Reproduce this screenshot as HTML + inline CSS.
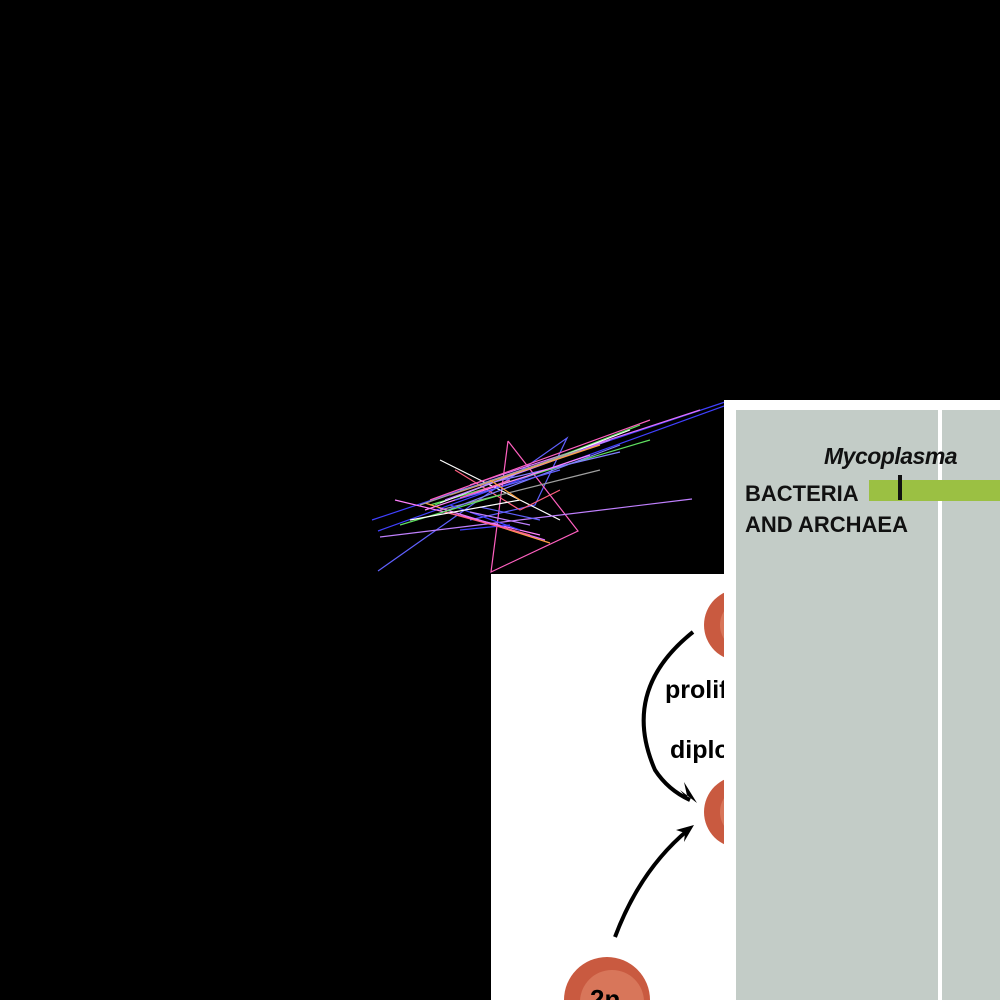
<!DOCTYPE html>
<html><head><meta charset="utf-8"><style>
html,body{margin:0;padding:0;background:#000;width:1000px;height:1000px;overflow:hidden}
svg{display:block}
</style></head><body>
<svg width="1000" height="1000" viewBox="0 0 1000 1000">
<rect x="0" y="0" width="1000" height="1000" fill="#000"/>
<g id="scribble" fill="none" stroke-width="1.2"></g>
<rect x="491" y="574" width="240" height="426" fill="#fff"/>
<path d="M693,632 Q620,690 655,770 Q668,790 690,800" fill="none" stroke="#000" stroke-width="4"/>
<polygon points="697,803 680,790 688,800 684,782" fill="#000"/>
<path d="M615,937 Q640,870 688,830" fill="none" stroke="#000" stroke-width="4"/>
<polygon points="694,825 676,830 685,833 684,842" fill="#000"/>
<circle cx="740" cy="625" r="36" fill="#c95a40"/>
<circle cx="746" cy="625" r="26" fill="#d8765a"/>
<circle cx="740" cy="812" r="36" fill="#c95a40"/>
<circle cx="746" cy="812" r="26" fill="#d8765a"/>
<circle cx="607" cy="1000" r="43" fill="#c95a40"/>
<circle cx="612" cy="1002" r="32" fill="#d8765a"/>
<text x="590" y="1008" font-family="Liberation Sans, sans-serif" font-weight="bold" font-size="26" fill="#000">2n</text>
<text x="665" y="698" font-family="Liberation Sans, sans-serif" font-weight="bold" font-size="25" fill="#000">proliferation</text>
<text x="670" y="758" font-family="Liberation Sans, sans-serif" font-weight="bold" font-size="25" fill="#000">diploid</text>
<rect x="724" y="400" width="276" height="600" fill="#fff"/>
<rect x="736" y="410" width="264" height="590" fill="#c3ccc7"/>
<rect x="938" y="410" width="4" height="590" fill="#fff"/>
<rect x="869" y="480" width="131" height="21" fill="#9bc043"/>
<rect x="898" y="475" width="4" height="25" fill="#111"/>
<text x="824" y="464" font-family="Liberation Sans, sans-serif" font-weight="bold" font-style="italic" font-size="23" fill="#111" letter-spacing="-0.5">Mycoplasma</text>
<text x="745" y="501" font-family="Liberation Sans, sans-serif" font-weight="bold" font-size="22" fill="#111">BACTERIA</text>
<text x="745" y="532" font-family="Liberation Sans, sans-serif" font-weight="bold" font-size="22" fill="#111">AND ARCHAEA</text>
</svg>
<script>
var colors=["#4040ff","#6060ff","#ff60c0","#60e060","#ffffff","#c080ff","#ffa040","#a0a0a0","#ff80ff","#8080ff","#e070ff","#ff6080"];
var lines=[
[[372,520],[725,402],[727,405],[378,531]],
[[378,571],[567,438],[535,505],[470,520]],
[[508,441],[578,531],[491,572],[508,441]],
[[430,505],[650,440]],
[[440,460],[560,520]],
[[380,537],[692,499]],
[[425,503],[550,543]],
[[440,510],[600,470]],
[[395,500],[540,535]],
[[460,490],[620,452]],
[[470,485],[700,410]],
[[455,470],[520,510],[560,490]],
[[460,530],[510,525]],
[[480,507],[540,520]],
[[430,500],[650,420]],
[[435,505],[640,425]],
[[440,503],[630,430]],
[[445,500],[610,440]],
[[450,495],[600,445]],
[[420,505],[580,450]],
[[425,510],[590,455]],
[[435,515],[620,445]],
[[440,508],[545,540]],
[[445,512],[530,535]],
[[450,505],[520,530]],
[[455,500],[560,470]],
[[460,498],[510,480]],
[[400,525],[500,495]],
[[410,520],[520,500]],
[[470,512],[530,525]],
[[490,480],[520,500]]
];
var g=document.getElementById('scribble');
lines.forEach(function(l,i){
 var p=document.createElementNS('http://www.w3.org/2000/svg','polyline');
 p.setAttribute('points',l.map(function(q){return q.join(',');}).join(' '));
 p.setAttribute('stroke',colors[i%colors.length]);
 
 
 g.appendChild(p);
});
</script>
</body></html>
